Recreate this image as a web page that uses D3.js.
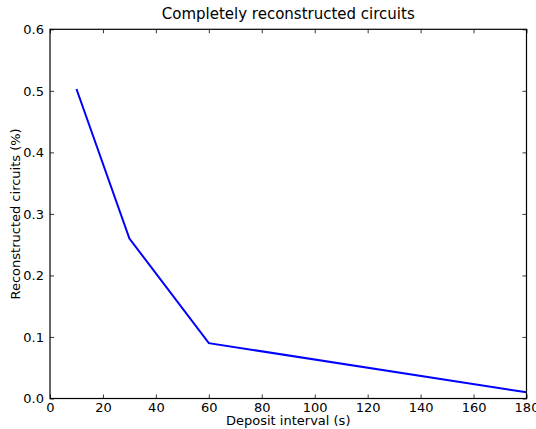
<!DOCTYPE html>
<html>
<head>
<meta charset="utf-8">
<script src="https://cdn.jsdelivr.net/npm/d3@7"></script>
<style>
  body { margin: 0; background: #fff; }
  text { font-family: "DejaVu Sans", sans-serif; fill: #000; }
</style>
</head>
<body>
<svg id="chart" width="536" height="429"></svg>
<script>
// data
var intervals = [10, 30, 60, 180];
var circuits = [0.503, 0.26, 0.09, 0.01];
var xTicks = [0, 20, 40, 60, 80, 100, 120, 140, 160, 180];
var yTicks = [0.0, 0.1, 0.2, 0.3, 0.4, 0.5, 0.6];

var svg = d3.select("#chart");
var margin = {left: 50, right: 9.5, top: 29.3, bottom: 30.5};
var width = 536 - margin.left - margin.right;
var height = 429 - margin.top - margin.bottom;

var x = d3.scaleLinear().domain([0, 180]).range([0, width]);
var y = d3.scaleLinear().domain([0, 0.6]).range([height, 0]);

var g = svg.append("g")
    .attr("transform", "translate(" + margin.left + "," + margin.top + ")");

// ticks pointing inward, on all four sides
function styleAxis(sel) {
  sel.select(".domain").remove();
  sel.selectAll(".tick line").attr("stroke", "#000").attr("stroke-width", 0.8);
  sel.selectAll(".tick text").style("font-size", "13px").style("font-family", "DejaVu Sans");
}

g.append("g")
    .attr("transform", "translate(0," + height + ")")
    .call(d3.axisBottom(x).tickValues(xTicks).tickSize(-4).tickPadding(4).tickFormat(d3.format("d")))
    .call(styleAxis);
g.append("g")
    .call(d3.axisTop(x).tickValues(xTicks).tickSize(-4).tickFormat(""))
    .call(styleAxis);
g.append("g")
    .call(d3.axisLeft(y).tickValues(yTicks).tickSize(-4).tickPadding(6).tickFormat(d3.format(".1f")))
    .call(styleAxis);
g.append("g")
    .attr("transform", "translate(" + width + ",0)")
    .call(d3.axisRight(y).tickValues(yTicks).tickSize(-4).tickFormat(""))
    .call(styleAxis);

var line = d3.line()
    .x(function(d, i) { return x(intervals[i]); })
    .y(function(d) { return y(d); });

g.append("path")
    .datum(circuits)
    .attr("fill", "none")
    .attr("stroke", "#0000ff")
    .attr("stroke-width", 2)
    .attr("d", line);

// frame
g.append("rect")
    .attr("width", width)
    .attr("height", height)
    .attr("fill", "none")
    .attr("stroke", "#000")
    .attr("stroke-width", 1.2);

svg.append("text")
    .attr("x", margin.left + width / 2)
    .attr("y", 19)
    .attr("text-anchor", "middle")
    .style("font-size", "15px")
    .text("Completely reconstructed circuits");

svg.append("text")
    .attr("x", margin.left + width / 2)
    .attr("y", 425)
    .attr("text-anchor", "middle")
    .style("font-size", "13px")
    .text("Deposit interval (s)");

svg.append("text")
    .attr("transform", "translate(19.5," + (margin.top + height / 2) + ") rotate(-90)")
    .attr("text-anchor", "middle")
    .style("font-size", "13px")
    .text("Reconstructed circuits (%)");
</script>
</body>
</html>
